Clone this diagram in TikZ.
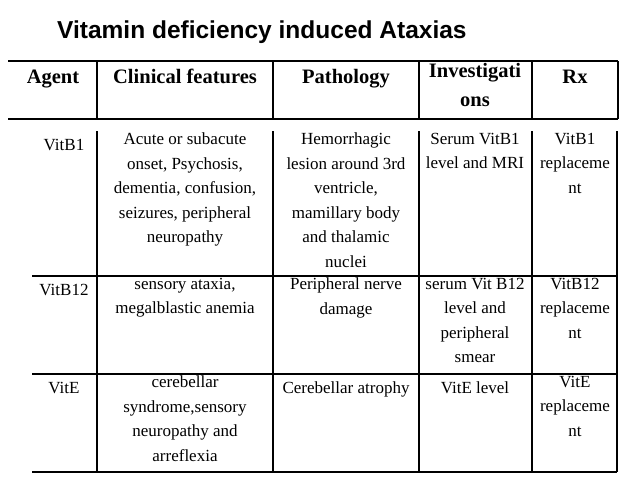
\documentclass[tikz,border=0pt]{standalone}
\usepackage{fontspec}
\setmainfont{Liberation Serif}
\newfontfamily\titlefont{Liberation Sans}
\begin{document}
\begin{tikzpicture}[x=1pt,y=-1pt,
    cell/.style={anchor=north,inner sep=0pt,align=center,font=\fontsize{17}{24.5}\selectfont,execute at begin node=\strut},
    headcell/.style={cell,font=\fontsize{20.5}{29}\selectfont\bfseries},
    rule/.style={line width=1.3pt}]
  \useasboundingbox (0,0) rectangle (638,479);
  \node[anchor=base west,inner sep=0pt,font=\titlefont\bfseries\fontsize{24.5}{26}\selectfont] (title) at (57,38) {Vitamin deficiency induced Ataxias};
  %% header lines
  \draw[rule] (8,61) -- (618,61);
  \draw[rule] (8,119) -- (618,119);
  \foreach \x in {97,273,419,532,618}{
    \draw[rule] (\x,61) -- (\x,119);
  }
  %% body lines
  \foreach \x in {97,273,419,532,617}{
    \draw[rule] (\x,131) -- (\x,472);
  }
  \foreach \y in {276,374,472}{
    \draw[rule] (32,\y) -- (617,\y);
  }
  %% header
  \node[headcell] (hagent) at (53,63) {Agent};
  \node[headcell] (hclin) at (185,63) {Clinical features};
  \node[headcell] (hpath) at (346,63) {Pathology};
  \node[headcell] (hinv) at (475,63) {Investigati\\ons};
  \node[headcell] (hrx) at (575,63) {Rx};
  %% row VitB1
  \node[cell] (b1) at (64,133) {VitB1};
  \node[cell] (b1clin) at (185,133) {Acute or subacute\\onset, Psychosis,\\dementia, confusion,\\seizures, peripheral\\neuropathy};
  \node[cell] (b1path) at (346,133) {Hemorrhagic\\lesion around 3rd\\ventricle,\\mamillary body\\and thalamic\\nuclei};
  \node[cell] (b1inv) at (475,133) {Serum VitB1\\level and MRI};
  \node[cell] (b1rx) at (575,133) {VitB1\\replaceme\\nt};
  %% row VitB12
  \node[cell] (b12) at (64,278) {VitB12};
  \node[cell] (b12clin) at (185,278) {sensory ataxia,\\megalblastic anemia};
  \node[cell] (b12path) at (346,278) {Peripheral nerve\\damage};
  \node[cell] (b12inv) at (475,278) {serum Vit B12\\level and\\peripheral\\smear};
  \node[cell] (b12rx) at (575,278) {VitB12\\replaceme\\nt};
  %% row VitE
  \node[cell] (e) at (64,376) {VitE};
  \node[cell] (eclin) at (185,376) {cerebellar\\syndrome,sensory\\neuropathy and\\arreflexia};
  \node[cell] (epath) at (346,376) {Cerebellar atrophy};
  \node[cell] (einv) at (475,376) {VitE level};
  \node[cell] (erx) at (575,376) {VitE\\replaceme\\nt};
\end{tikzpicture}
\end{document}
